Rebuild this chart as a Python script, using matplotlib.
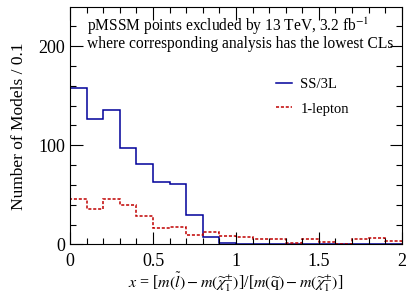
import numpy as np
import matplotlib
matplotlib.use("Agg")
import matplotlib.pyplot as plt
from matplotlib.ticker import MultipleLocator

plt.rcParams['font.family'] = ['Liberation Serif', 'DejaVu Serif']
plt.rcParams['mathtext.fontset'] = 'stix'

# histogram bins (width 0.1 from 0 to 2)
bin_edges = np.round(np.arange(0, 2.01, 0.1), 2)
ss3l = [158, 126, 136, 97, 81, 63, 61, 30, 7, 1,
        0, 0, 0, 0, 0, 0, 0, 0, 0, 0]
onelep = [46, 36, 46, 40, 29, 16, 18, 9, 12.5, 8,
          7, 5, 5, 1, 5, 2.5, 0.5, 5, 6, 3]

fig = plt.figure(figsize=(4.15, 2.98), dpi=100)
ax = fig.add_axes([0.169, 0.180, 0.799, 0.795])

ax.stairs(ss3l, bin_edges, color='#00009a', lw=1.1, label='SS/3L')
ax.stairs(onelep, bin_edges, color='#c00000', lw=1.1, ls=(0, (2, 1.2)), label='1-lepton')

ax.set_xlim(0, 2)
ax.set_ylim(0, 239)
ax.xaxis.set_major_locator(MultipleLocator(0.5))
ax.xaxis.set_minor_locator(MultipleLocator(0.1))
ax.yaxis.set_major_locator(MultipleLocator(100))
ax.yaxis.set_minor_locator(MultipleLocator(20))
ax.xaxis.set_major_formatter(plt.FuncFormatter(lambda v, p: f"{v:g}"))
ax.tick_params(which='both', direction='in', top=True, right=True, labelsize=13)
ax.tick_params(which='major', length=9, width=0.8)
ax.tick_params(which='minor', length=4.5, width=0.8)
ax.tick_params(axis='x', pad=6)

ax.set_ylabel('Number of Models / 0.1', fontsize=12.5, labelpad=8)
ax.set_xlabel(r'$x$ = [$m(\widetilde{l}) - m(\widetilde{\chi}_1^{\pm})$]/[$m(\widetilde{\mathrm{q}}) - m(\widetilde{\chi}_1^{\pm})$]',
              fontsize=11.5, labelpad=0)

ax.text(0.05, 0.965, 'pMSSM points excluded by 13 TeV, 3.2 fb$^{-1}$\nwhere corresponding analysis has the lowest CLs',
        transform=ax.transAxes, fontsize=11.2, va='top', ha='left', linespacing=0.95)

ax.legend(loc='upper left', bbox_to_anchor=(0.58, 0.76), frameon=False, fontsize=10.5,
          handlelength=1.1, handletextpad=0.6, labelspacing=0.8)

fig.savefig('out.png', dpi=100)
